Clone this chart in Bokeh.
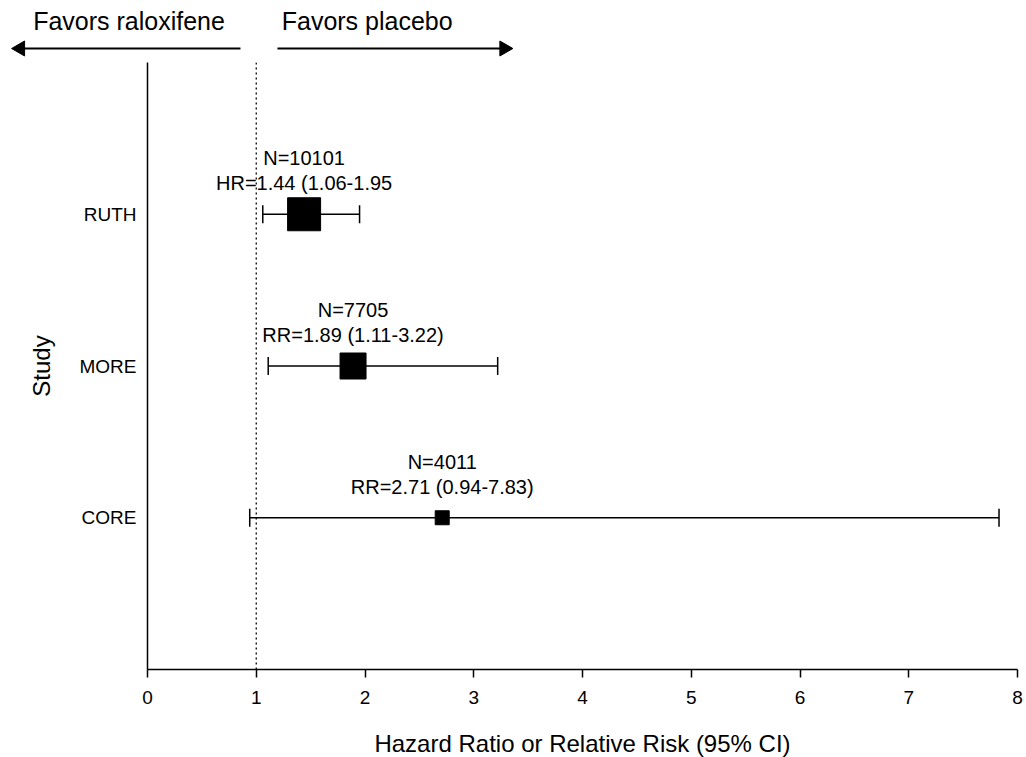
from bokeh.plotting import figure
from bokeh.layouts import column
from bokeh.models import ColumnDataSource, Whisker, TeeHead, Span, FixedTicker, Range1d
from bokeh.core.properties import value
from bokeh.embed import file_html
from bokeh.resources import INLINE

studies = ["RUTH", "MORE", "CORE"]
ypos = [3, 2, 1]
n_subjects = [10101, 7705, 4011]
measure = ["HR", "RR", "RR"]
estimate = [1.44, 1.89, 2.71]
lower = [1.06, 1.11, 0.94]
upper = [1.95, 3.22, 7.83]
marker_px = [33, 26, 14]
x_ticks = [0, 1, 2, 3, 4, 5, 6, 7, 8]
x_title = "Hazard Ratio or Relative Risk (95% CI)"
y_title = "Study"
left_text = "Favors raloxifene"
right_text = "Favors placebo"

line1 = ["N=%d" % n for n in n_subjects]
line2 = ["%s=%.2f (%.2f-%.2f)" % (m, e, l, u) for m, e, l, u in zip(measure, estimate, lower, upper)]
line2[0] = line2[0].rstrip(")")  # as printed in the reference

src = ColumnDataSource(dict(y=ypos, est=estimate, lo=lower, hi=upper, size=marker_px,
                            l1=line1, l2=line2))

FONT = "Liberation Sans"
W = 1026
LEFT, RIGHT = 147, 9
PX_PER_UNIT = (W - LEFT - RIGHT) / 8.0
full_x = (-LEFT / PX_PER_UNIT, 8 + RIGHT / PX_PER_UNIT)

TOP_H = 62
MAIN_H = 651
BOT_H = 757 - TOP_H - MAIN_H


def bare(h, y0, y1):
    f = figure(width=W, height=h, x_range=Range1d(*full_x), y_range=Range1d(y1, y0),
               output_backend="svg", toolbar_location=None,
               x_axis_type=None, y_axis_type=None,
               min_border=0, min_border_left=0, min_border_right=0,
               min_border_top=0, min_border_bottom=0)
    f.outline_line_color = None
    f.grid.visible = False
    f.frame_align = False
    return f


# ---- top strip with direction arrows ----
top = bare(TOP_H, 0, TOP_H)
ay = 48
top.segment(x0=[0.855, 1.195], y0=[ay, ay], x1=[-1.16, 3.27], y1=[ay, ay],
            line_color="black", line_width=2)
top.scatter(x=[-1.17, 3.28], y=[ay, ay], marker="triangle", angle=[1.5708, -1.5708],
            size=15, fill_color="black", line_color="black")
top.text(x=[-0.17, 2.02], y=[20, 20], text=[left_text, right_text],
         text_align="center", text_baseline="middle",
         text_font=value(FONT), text_font_size="25px", text_color="black")

# ---- main plot ----
p = figure(width=W, height=MAIN_H, x_range=(0, 8), y_range=(0, 4),
           output_backend="svg", toolbar_location=None,
           min_border_left=LEFT, min_border_right=RIGHT, min_border_top=0,
           min_border_bottom=MAIN_H - (669 - TOP_H))
p.outline_line_color = None
p.grid.visible = False
p.frame_align = False

p.add_layout(Span(location=1, dimension="height", line_color="black", line_width=1.3,
                  line_dash="2 3"))

w = Whisker(source=src, base="y", lower="lo", upper="hi", dimension="width",
            line_color="black", line_width=1.5,
            lower_head=TeeHead(size=18, line_color="black", line_width=1.5),
            upper_head=TeeHead(size=18, line_color="black", line_width=1.5))
p.add_layout(w)

p.scatter(x="est", y="y", size="size", marker="square", source=src,
          fill_color="black", line_color="black")

p.text(x="est", y="y", text="l1", source=src, y_offset=-56, text_align="center",
       text_baseline="middle", text_font=value(FONT), text_font_size="20px", text_color="black")
p.text(x="est", y="y", text="l2", source=src, y_offset=-31, text_align="center",
       text_baseline="middle", text_font=value(FONT), text_font_size="20px", text_color="black")

xa = p.xaxis[0]
xa.ticker = FixedTicker(ticks=x_ticks)
xa.minor_tick_line_color = None
xa.major_tick_out = 8
xa.major_tick_in = 0
xa.axis_line_width = 1.5
xa.major_tick_line_width = 1.5
xa.major_label_standoff = 13
xa.major_label_text_font = FONT
xa.major_label_text_font_size = "19px"
xa.major_label_text_color = "black"

ya = p.yaxis[0]
ya.ticker = FixedTicker(ticks=ypos)
ya.major_label_overrides = {y: s for y, s in zip(ypos, studies)}
ya.major_tick_line_color = None
ya.minor_tick_line_color = None
ya.axis_line_width = 1.5
ya.major_label_standoff = 5
ya.major_label_text_font = FONT
ya.major_label_text_font_size = "19px"
ya.major_label_text_color = "black"
ya.axis_label = y_title
ya.axis_label_text_font = FONT
ya.axis_label_text_font_size = "24px"
ya.axis_label_text_font_style = "normal"
ya.axis_label_standoff = 22
ya.axis_label_text_color = "black"

# ---- bottom strip with the x-axis title ----
bot = bare(BOT_H, 757 - BOT_H, 757)
bot.text(x=[4], y=[743], text=[x_title], text_align="center", text_baseline="middle",
         text_font=value(FONT), text_font_size="24px", text_color="black")

layout = column(top, p, bot, spacing=0)
open("out.html", "w").write(file_html(layout, INLINE))
